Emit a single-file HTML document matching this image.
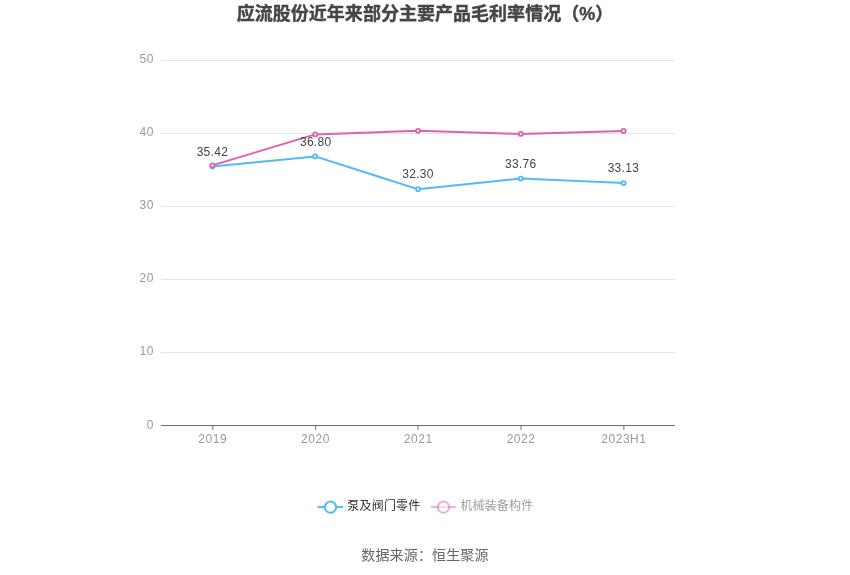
<!DOCTYPE html>
<html lang="zh-CN">
<head>
<meta charset="utf-8">
<title>应流股份近年来部分主要产品毛利率情况（%）</title>
<style>
html,body{margin:0;padding:0;background:#fff;}
body{width:850px;height:575px;overflow:hidden;position:relative;font-family:"Liberation Sans","Noto Sans CJK SC",sans-serif;}
svg{position:absolute;left:0;top:0;display:block;will-change:transform;}
svg text{font-family:"Liberation Sans","Noto Sans CJK SC",sans-serif;}
.title{font-size:18px;font-weight:bold;fill:#464646;stroke:#464646;stroke-width:0.4px;stroke-linejoin:round;letter-spacing:0.03px;}
.ax{font-size:12px;fill:#999;letter-spacing:0.55px;}
.lab{font-size:12px;fill:#444;letter-spacing:0.3px;}
.lg1{font-size:12px;fill:#333;letter-spacing:0.2px;}
.lg2{font-size:12px;fill:#9c9c9c;letter-spacing:0.2px;}
.src{font-size:14px;fill:#666;letter-spacing:0.15px;}
</style>
</head>
<body>
<svg width="850" height="575" viewBox="0 0 850 575">
  <text class="title" x="425" y="19.7" text-anchor="middle">应流股份近年来部分主要产品毛利率情况（%）</text>

  <!-- grid lines -->
  <g stroke="#E0E6F1" stroke-width="1" shape-rendering="crispEdges">
    <line x1="161" y1="60.5" x2="675" y2="60.5"/>
    <line x1="161" y1="133.5" x2="675" y2="133.5"/>
    <line x1="161" y1="206.5" x2="675" y2="206.5"/>
    <line x1="161" y1="279.5" x2="675" y2="279.5"/>
    <line x1="161" y1="352.5" x2="675" y2="352.5"/>
  </g>
  <!-- axis line + ticks -->
  <line x1="161" y1="425.5" x2="675" y2="425.5" stroke="#6E7079" stroke-width="1" shape-rendering="crispEdges"/>
  <g stroke="#6E7079" stroke-width="1">
    <line x1="212.9" y1="425" x2="212.9" y2="430"/>
    <line x1="315.7" y1="425" x2="315.7" y2="430"/>
    <line x1="418" y1="425" x2="418" y2="430"/>
    <line x1="521" y1="425" x2="521" y2="430"/>
    <line x1="623.9" y1="425" x2="623.9" y2="430"/>
  </g>
  <!-- y labels -->
  <g class="ax" text-anchor="end">
    <text x="154" y="63">50</text>
    <text x="154" y="136">40</text>
    <text x="154" y="209">30</text>
    <text x="154" y="282">20</text>
    <text x="154" y="355">10</text>
    <text x="154" y="429">0</text>
  </g>
  <!-- x labels -->
  <g class="ax" text-anchor="middle">
    <text x="212.7" y="443">2019</text>
    <text x="315.5" y="443">2020</text>
    <text x="418.3" y="443">2021</text>
    <text x="521.1" y="443">2022</text>
    <text x="623.9" y="443">2023H1</text>
  </g>

  <!-- series 1 blue -->
  <polyline fill="none" stroke="#52BAF5" stroke-width="2" stroke-linejoin="bevel"
    points="212.4,166.4 315.2,156.4 418,189.2 520.8,178.6 623.6,183.1"/>
  <g fill="#fff" stroke="#52BAF5" stroke-width="1.8">
    <circle cx="212.4" cy="166.4" r="2"/>
    <circle cx="315.2" cy="156.4" r="2"/>
    <circle cx="418" cy="189.2" r="2"/>
    <circle cx="520.8" cy="178.6" r="2"/>
    <circle cx="623.6" cy="183.1" r="2"/>
  </g>
  <!-- series 2 pink -->
  <polyline fill="none" stroke="#DE62AB" stroke-width="2" stroke-linejoin="bevel"
    points="212.4,165.4 315.2,134.4 418,130.8 520.8,133.9 623.6,130.9"/>
  <g fill="#fff" stroke="#DE62AB" stroke-width="1.8">
    <circle cx="212.4" cy="165.4" r="2"/>
    <circle cx="315.2" cy="134.4" r="2"/>
    <circle cx="418" cy="130.8" r="2"/>
    <circle cx="520.8" cy="133.9" r="2"/>
    <circle cx="623.6" cy="130.9" r="2"/>
  </g>
  <!-- value labels -->
  <g class="lab" text-anchor="middle">
    <text x="212.4" y="156">35.42</text>
    <text x="315.7" y="146">36.80</text>
    <text x="418" y="178">32.30</text>
    <text x="520.8" y="168">33.76</text>
    <text x="623.4" y="171.6">33.13</text>
  </g>

  <!-- legend -->
  <g>
    <line x1="317.7" y1="507.1" x2="343.1" y2="507.1" stroke="#52BAF5" stroke-width="2" stroke-linecap="butt"/>
    <circle cx="330.5" cy="507.2" r="5.6" fill="#fff" stroke="#52BAF5" stroke-width="2"/>
    <text class="lg1" x="347.3" y="509.8">泵及阀门零件</text>
    <line x1="430.7" y1="507.1" x2="456.1" y2="507.1" stroke="#DE62AB" stroke-opacity="0.5" stroke-width="2"/>
    <circle cx="443.5" cy="507.2" r="5.6" fill="#fff" fill-opacity="0.5" stroke="#DE62AB" stroke-opacity="0.5" stroke-width="2"/>
    <text class="lg2" x="460.2" y="509.8">机械装备构件</text>
  </g>

  <text class="src" x="425" y="560" text-anchor="middle">数据来源：恒生聚源</text>
</svg>
</body>
</html>
